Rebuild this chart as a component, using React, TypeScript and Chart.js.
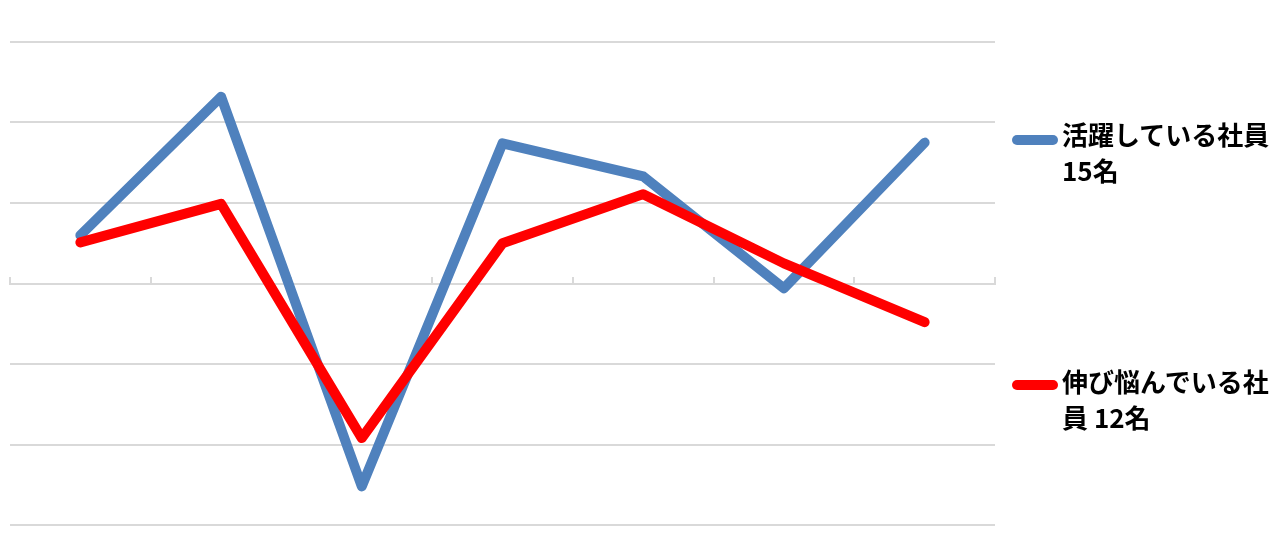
import React, { useEffect, useRef } from "react";
import { Chart, registerables } from "chart.js";

Chart.register(...registerables);

const categories = ["1", "2", "3", "4", "5", "6", "7"];
const activeLabel = ["活躍している社員", "15名"];
const strugglingLabel = ["伸び悩んでいる社", "員 12名"];
const activeValues = [0.6, 2.32, -2.52, 1.74, 1.33, -0.06, 1.75];
const strugglingValues = [0.51, 0.99, -1.92, 0.5, 1.11, 0.25, -0.48];
const yMin = -3;
const yMax = 3;

const BLUE = "#4F81BD";
const RED = "#FF0000";
const GRID = "#D9D9D9";

export default function App() {
  const ref = useRef<HTMLCanvasElement | null>(null);

  useEffect(() => {
    if (!ref.current) return;
    const chart = new Chart(ref.current, {
      type: "line",
      data: {
        labels: categories,
        datasets: [
          {
            label: activeLabel.join(""),
            data: activeValues,
            borderColor: BLUE,
            backgroundColor: BLUE,
            borderWidth: 10,
            pointRadius: 0,
            pointHoverRadius: 0,
            borderJoinStyle: "round",
            borderCapStyle: "round",
            tension: 0,
            order: 1,
          },
          {
            label: strugglingLabel.join(""),
            data: strugglingValues,
            borderColor: RED,
            backgroundColor: RED,
            borderWidth: 10,
            pointRadius: 0,
            pointHoverRadius: 0,
            borderJoinStyle: "round",
            borderCapStyle: "round",
            tension: 0,
            order: 0,
          },
        ],
      },
      options: {
        animation: false,
        responsive: false,
        maintainAspectRatio: false,
        layout: { padding: { left: 10, right: 285, top: 42, bottom: 22 } },
        plugins: { legend: { display: false }, tooltip: { enabled: false } },
        scales: {
          x: {
            position: { y: 0 },
            offset: true,
            ticks: { display: false },
            grid: {
              offset: true,
              drawOnChartArea: false,
              drawTicks: true,
              tickLength: -8,
              color: GRID,
              lineWidth: 2,
            },
            border: { display: true, color: GRID, width: 2 },
          },
          y: {
            min: yMin,
            max: yMax,
            ticks: { display: false, stepSize: 1 },
            grid: { drawTicks: false, color: GRID, lineWidth: 2 },
            border: { display: false },
          },
        },
      },
    });
    return () => chart.destroy();
  }, []);

  const textStyle: React.CSSProperties = {
    position: "absolute",
    left: 1062,
    fontFamily: '"Noto Sans CJK JP", "Noto Sans", sans-serif',
    fontWeight: 700,
    fontSize: 26,
    lineHeight: "36px",
    color: "#000",
    whiteSpace: "nowrap",
  };
  const markerStyle = (color: string, top: number): React.CSSProperties => ({
    position: "absolute",
    left: 1012,
    top,
    width: 46,
    height: 10,
    borderRadius: 5,
    background: color,
  });

  return (
    <div style={{ position: "absolute", left: 0, top: 0, width: 1280, height: 547, background: "#fff" }}>
      <canvas ref={ref} width={1280} height={547} style={{ display: "block" }} />
      <div style={markerStyle(BLUE, 135)} />
      <div style={{ ...textStyle, top: 116 }}>
        {activeLabel.map((l, i) => (
          <div key={i}>{l}</div>
        ))}
      </div>
      <div style={markerStyle(RED, 380)} />
      <div style={{ ...textStyle, top: 363 }}>
        {strugglingLabel.map((l, i) => (
          <div key={i}>{l}</div>
        ))}
      </div>
    </div>
  );
}
